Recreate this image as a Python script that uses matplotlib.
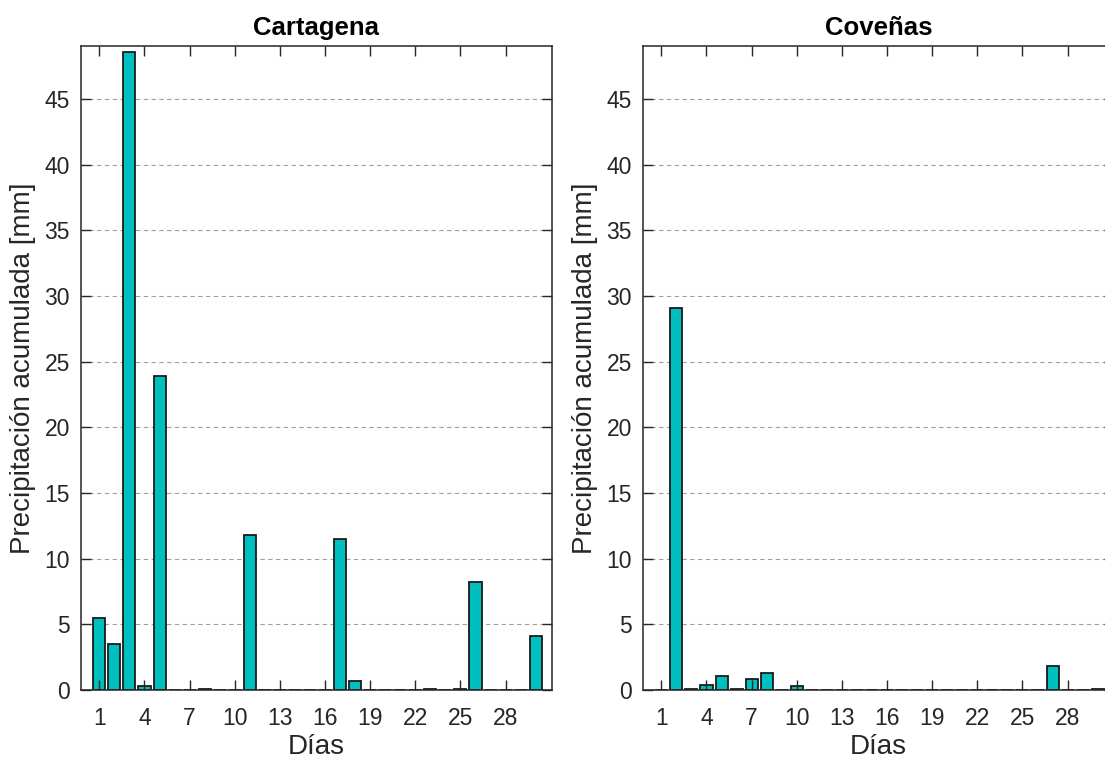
import numpy as np
import matplotlib
matplotlib.use("Agg")
import matplotlib.pyplot as plt

plt.rcParams['font.family'] = ['Liberation Sans', 'DejaVu Sans']

# datos diarios de precipitacion acumulada [mm]
dias = np.arange(1, 31)
cartagena = [5.5, 3.5, 48.6, 0.3, 23.9, 0, 0, 0.1, 0, 0,
             11.8, 0, 0, 0, 0, 0, 11.5, 0.7, 0, 0,
             0, 0, 0.1, 0, 0.1, 8.2, 0, 0, 0, 4.1]
covenas = [0, 29.1, 0.1, 0.4, 1.1, 0.1, 0.8, 1.3, 0, 0.3,
           0, 0, 0, 0, 0, 0, 0, 0, 0, 0,
           0, 0, 0, 0, 0, 0, 1.8, 0, 0, 0.1]
titulos = ["Cartagena", "Coveñas"]
xticks = np.arange(1, 29, 3)
yticks = np.arange(0, 50, 5)

fig = plt.figure(figsize=(11.05, 7.63), dpi=100)
ax1 = fig.add_axes([0.0733, 0.0957, 0.4262, 0.844])
ax2 = fig.add_axes([0.5819, 0.0957, 0.4262, 0.844])

axis_col = "#262626"
for ax, vals, tit in zip([ax1, ax2], [cartagena, covenas], titulos):
    ax.bar(dias, vals, width=0.8, color="#00bfbf", edgecolor="#1a1a1a",
           linewidth=1.3, zorder=1)
    for yt in yticks[1:]:
        ax.axhline(yt, color="#a0a0a0", lw=0.8, ls=(0, (4, 3)), zorder=0.5)
    ax.set_xlim(-0.22, 31.08)
    ax.set_ylim(0, 49.05)
    ax.set_xticks(xticks)
    ax.set_yticks(yticks)
    ax.tick_params(direction="in", length=7, width=1, colors=axis_col,
                   labelsize=16.5, top=True, right=True)
    ax.tick_params(axis="x", pad=12)
    ax.tick_params(axis="y", pad=8)
    for sp in ax.spines.values():
        sp.set_color(axis_col)
        sp.set_linewidth(1.1)
    ax.set_title(tit, fontsize=18.5, fontweight="bold", pad=8)
    ax.set_xlabel("Días", fontsize=20, color=axis_col, labelpad=3)
    ax.set_ylabel("Precipitación acumulada [mm]", fontsize=20,
                  color=axis_col, labelpad=6)

fig.savefig("out.png", dpi=100)
